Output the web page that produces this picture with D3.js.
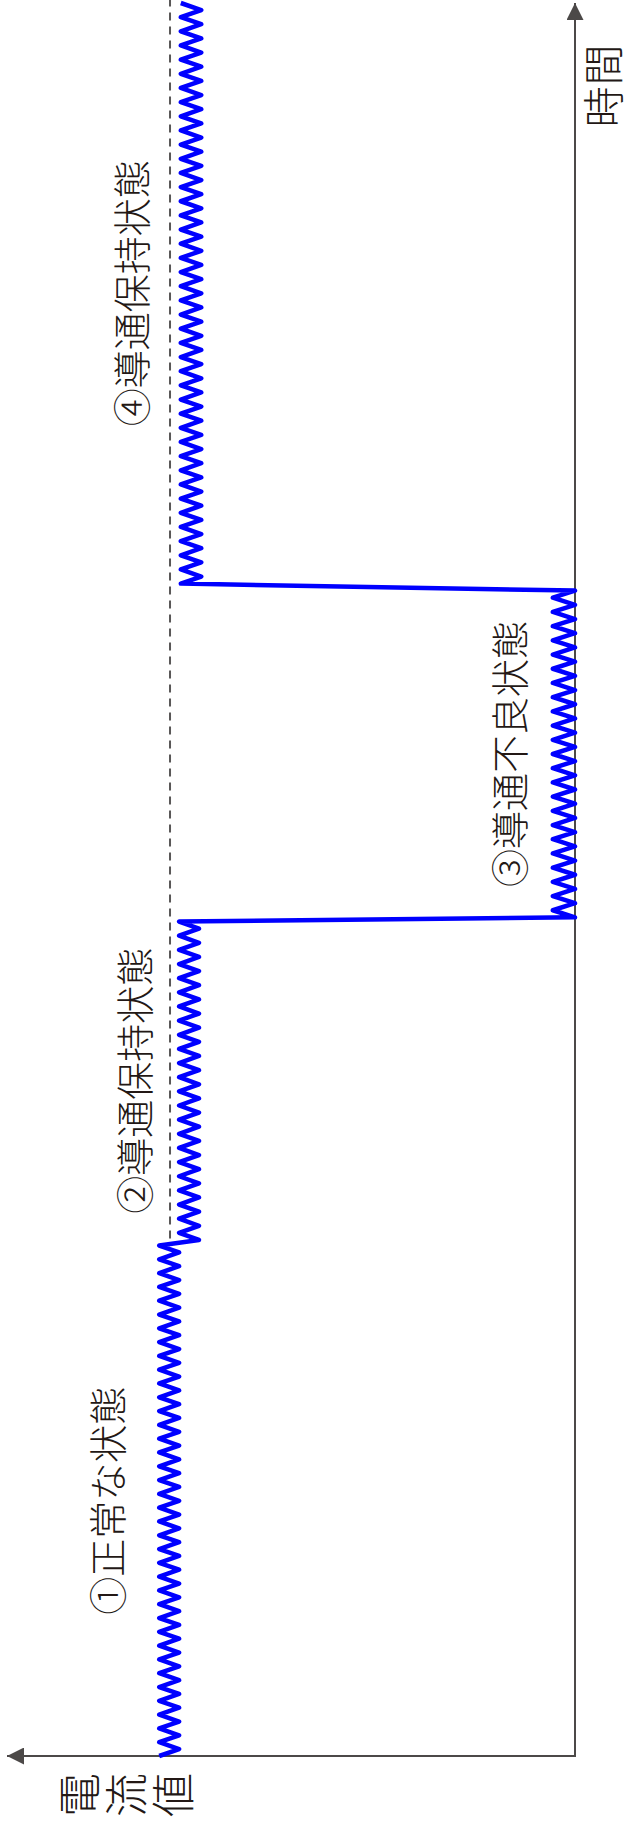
<!DOCTYPE html>
<html>
  <head>
    <meta charset="utf-8">
    <style>
        body { margin: 0; background: #fff; }
        svg { display: block; }
        text { font-family: "Noto Sans CJK JP", "Noto Sans", sans-serif; font-weight: 300; fill: #231815; }
    </style>
    <script src="https://d3js.org/d3.v7.min.js"></script>
  </head>
  <body>
    <svg></svg>
    <script>
    // chart data (time runs upward, current value runs to the left)
    var timeDomain = [0, 125];
    var currentDomain = [0, 100];

    var phaseLabels = ["①正常な状態", "②導通保持状態", "③導通不良状態", "④導通保持状態"];
    var phaseStart = [0, 36.8, 59.8, 83.6];
    var phaseEnd = [36.4, 59.5, 83.1, 125];
    var currentHigh = [73.2, 69.7, 3.9, 69.4];
    var currentLow = [69.7, 66.2, 0, 65.8];
    var swingCount = [74, 45, 46, 82];
    var startsHigh = [true, false, false, true];

    var normalLevel = 71.3;      // dashed reference line
    var normalFrom = 36.9;

    var timeTitle = ["時", "間"];
    var currentTitle = ["電", "流", "値"];

    var width = 629, height = 1829;
    var labelGap = [54, 47, 45, 51];   // px left of each phase's high edge

    var svg = d3.select("svg")
        .attr("width", width)
        .attr("height", height);

    var y = d3.scaleLinear()
        .domain(timeDomain)
        .range([1756, 3]);

    var x = d3.scaleLinear()
        .domain(currentDomain)
        .range([575, 7]);

    var axisColor = "#4c4948";

    var defs = svg.append("defs");
    defs.append("marker")
        .attr("id", "arrow")
        .attr("viewBox", "0 0 10 10")
        .attr("refX", 10)
        .attr("refY", 5)
        .attr("markerUnits", "userSpaceOnUse")
        .attr("markerWidth", 17)
        .attr("markerHeight", 17)
        .attr("orient", "auto")
      .append("path")
        .attr("d", "M0,0 L10,5 L0,10 Z")
        .attr("fill", axisColor);

    // dashed normal level
    svg.append("line")
        .attr("x1", x(normalLevel))
        .attr("x2", x(normalLevel))
        .attr("y1", y(normalFrom))
        .attr("y2", y(timeDomain[1]) - 5)
        .attr("stroke", "#595757")
        .attr("stroke-width", 2)
        .attr("stroke-dasharray", "8,6");

    // axes
    svg.append("line")
        .attr("x1", x(0))
        .attr("y1", y(0))
        .attr("x2", x(currentDomain[1]))
        .attr("y2", y(0))
        .attr("stroke", axisColor)
        .attr("stroke-width", 2)
        .attr("marker-end", "url(#arrow)");

    svg.append("line")
        .attr("x1", x(0))
        .attr("y1", y(0) + 1)
        .attr("x2", x(0))
        .attr("y2", y(timeDomain[1]))
        .attr("stroke", axisColor)
        .attr("stroke-width", 2)
        .attr("marker-end", "url(#arrow)");

    // zigzag signal built from phase table
    var points = [];
    phaseLabels.forEach(function(label, i) {
        var n = swingCount[i];
        for (var k = 0; k <= n; k++) {
            var t = phaseStart[i] + (phaseEnd[i] - phaseStart[i]) * k / n;
            var high = (k % 2 === 0) === startsHigh[i];
            points.push({t: t, v: high ? currentHigh[i] : currentLow[i]});
        }
    });

    var line = d3.line()
        .x(function(d) { return x(d.v); })
        .y(function(d) { return y(d.t); });

    svg.append("path")
        .datum(points)
        .attr("d", line)
        .attr("fill", "none")
        .attr("stroke", "#0000ff")
        .attr("stroke-width", 4.5)
        .attr("stroke-linejoin", "round");

    // phase labels
    svg.selectAll(".phase")
        .data(phaseLabels)
        .enter().append("text")
        .attr("class", "phase")
        .attr("transform", function(d, i) {
            var cx = x(currentHigh[i]) - labelGap[i];
            var cy = y((phaseStart[i] + phaseEnd[i]) / 2);
            return "translate(" + cx + "," + cy + ") rotate(-90)";
        })
        .attr("text-anchor", "middle")
        .attr("dominant-baseline", "central")
        .attr("font-size", 38)
        .text(function(d) { return d; });

    // axis titles, one glyph each
    svg.selectAll(".ttitle")
        .data(timeTitle)
        .enter().append("text")
        .attr("class", "ttitle")
        .attr("transform", function(d, i) {
            return "translate(601," + (107 - i * 42) + ") rotate(-90)";
        })
        .attr("text-anchor", "middle")
        .attr("dominant-baseline", "central")
        .attr("font-size", 41)
        .text(function(d) { return d; });

    svg.selectAll(".ctitle")
        .data(currentTitle)
        .enter().append("text")
        .attr("class", "ctitle")
        .attr("transform", function(d, i) {
            return "translate(" + (77 + i * 47) + ",1795) rotate(-90)";
        })
        .attr("text-anchor", "middle")
        .attr("dominant-baseline", "central")
        .attr("font-size", 44)
        .text(function(d) { return d; });
    </script>
  </body>
</html>
